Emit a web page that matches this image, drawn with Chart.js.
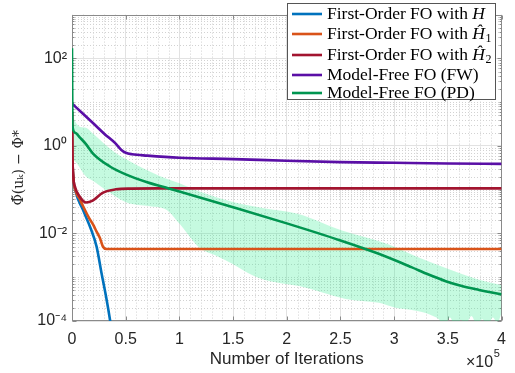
<!DOCTYPE html>
<html><head><meta charset="utf-8">
<script src="https://cdn.jsdelivr.net/npm/chart.js@4.4.1/dist/chart.umd.min.js"></script>
<style>html,body{margin:0;padding:0;background:#fff;}#wrap{width:515px;height:373px;}</style>
</head><body><div id="wrap"><canvas id="c" width="515" height="373"></canvas></div>
<script>
// ---- tick labels ----
const xTicks = [0, 50000, 100000, 150000, 200000, 250000, 300000, 350000, 400000];
const xTickLabels = ['0', '0.5', '1', '1.5', '2', '2.5', '3', '3.5', '4'];
const yTicks = [1e-4, 1e-2, 1, 1e2];
const yTickLabels = ['10\u207B\u2074', '10\u207B\u00B2', '10\u2070', '10\u00B2'];

// ---- series labels ----
const seriesText = ['First-Order FO with ', 'First-Order FO with ', 'First-Order FO with ', 'Model-Free FO (FW)', 'Model-Free FO (PD)'];
const seriesMath = ['H', '\u0124', '\u0124', '', ''];
const seriesSub = ['', '1', '2', '', ''];
const seriesColors = ['#0072BD', '#D95319', '#A2142F', '#5A0FA6', '#009550'];

// ---- First-Order FO with H ----
const hX = [0, 400, 1200, 3700, 9900, 17600, 22900, 27600, 32200, 35300, 38000];
const hY = [6.0, 0.63, 0.2, 0.085, 0.036, 0.0126, 0.005, 0.0012, 0.00031, 0.00011, 0.00004];

// ---- First-Order FO with H1 ----
const h1X = [0, 400, 1200, 3700, 7000, 9900, 16100, 19800, 22900, 26000, 29000, 32200, 36000, 400000];
const h1Y = [6.0, 0.63, 0.2, 0.089, 0.063, 0.044, 0.022, 0.0158, 0.011, 0.0079, 0.0049, 0.0044, 0.0044, 0.0044];

// ---- First-Order FO with H2 ----
const h2X = [0, 400, 1200, 3000, 6800, 13000, 19200, 28500, 40800, 55000, 80000, 400000];
const h2Y = [6.0, 0.63, 0.2, 0.112, 0.072, 0.051, 0.056, 0.085, 0.102, 0.106, 0.107, 0.107];

// ---- Model-Free FO (FW) ----
const fwX = [0, 10000, 20000, 30000, 40000, 46000, 50000, 56000, 70000, 100000, 150000, 200000, 250000, 300000, 350000, 400000];
const fwY = [9.3, 5.5, 3.24, 1.9, 1.17, 0.81, 0.70, 0.645, 0.60, 0.537, 0.50, 0.457, 0.427, 0.412, 0.398, 0.389];

// ---- Model-Free FO (PD) mean ----
const pdX = [0, 400, 3000, 7400, 13000, 19800, 35300, 50000, 70000, 90000, 100000, 150000, 200000, 250000, 285000, 316000, 332000, 348000, 363000, 379000, 391000, 400000];
const pdY = [170, 2.9, 2.0, 1.55, 1.10, 0.66, 0.339, 0.224, 0.148, 0.107, 0.0912, 0.0398, 0.017, 0.00692, 0.00347, 0.0017, 0.00115, 0.000813, 0.00063, 0.000513, 0.000447, 0.000407];

// ---- Model-Free FO (PD) spread: upper / lower ----
const pdUpX = [0, 400, 12000, 20000, 30000, 40000, 50000, 72000, 88000, 100000, 120000, 150000, 180000, 210000, 250000, 295000, 320000, 348000, 378000, 400000];
const pdUpY = [500, 5.1, 2.63, 1.86, 1.12, 0.708, 0.501, 0.263, 0.178, 0.141, 0.0891, 0.0525, 0.0372, 0.0282, 0.012, 0.00562, 0.00302, 0.00162, 0.00089, 0.00066];
const pdLoX = [0, 400, 13000, 19800, 35300, 50800, 72400, 87900, 100200, 118800, 134300, 149700, 165200, 180700, 193000, 211600, 254900, 285800, 301300, 315000, 325800, 333000, 341500, 347000, 352000, 357000, 362000, 367000, 372000, 377000, 382000, 387000, 392000, 396000, 400000];
const pdLoY = [0.47, 0.47, 0.2, 0.158, 0.085, 0.051, 0.042, 0.035, 0.0166, 0.0047, 0.0031, 0.002, 0.0012, 0.00085, 0.00074, 0.00063, 0.00032, 0.00026, 0.0002, 0.00018, 0.00016, 0.00014, 0.00011, 0.00008, 0.00012, 0.00007, 0.000105, 0.00009, 0.00013, 0.00008, 0.00011, 0.00008, 0.00012, 0.00009, 0.00015];

const pts = (xs, ys) => xs.map((v, i) => ({x: v, y: ys[i]}));
const lw = 2.6;

const frame = {
  id: 'frame',
  beforeDatasetsDraw(chart) {
    const {ctx, chartArea: a, scales: {x, y}} = chart;
    ctx.save();
    ctx.strokeStyle = '#d2d2d2';
    ctx.lineWidth = 1;
    ctx.setLineDash([1, 2]);
    ctx.beginPath();
    for (let v = 10000; v < 400000; v += 10000) {
      if (v % 50000 === 0) continue;
      const px = Math.round(x.getPixelForValue(v)) + 0.5;
      ctx.moveTo(px, a.top); ctx.lineTo(px, a.bottom);
    }
    for (let d = -4; d < 3; d++) {
      for (let k = 1; k < 10; k++) {
        if (k === 1 && d % 2 === 0) continue;
        const py = Math.round(y.getPixelForValue(k * Math.pow(10, d))) + 0.5;
        ctx.moveTo(a.left, py); ctx.lineTo(a.right, py);
      }
    }
    ctx.stroke();

    // axes box and inward ticks
    ctx.setLineDash([]);
    ctx.strokeStyle = '#8a8a8a';
    const L = Math.round(a.left) + 0.5, R = Math.round(a.right) - 0.5;
    const T = Math.round(a.top) + 0.5, B = Math.round(a.bottom) - 0.5;
    ctx.strokeRect(L, T, R - L, B - T);
    ctx.beginPath();
    xTicks.forEach(v => {
      const px = Math.round(x.getPixelForValue(v)) + 0.5;
      ctx.moveTo(px, B); ctx.lineTo(px, B - 4);
      ctx.moveTo(px, T); ctx.lineTo(px, T + 4);
    });
    for (let d = -4; d < 3; d++) {
      for (let k = 1; k < 10; k++) {
        const py = Math.round(y.getPixelForValue(k * Math.pow(10, d))) + 0.5;
        const len = (k === 1 && d % 2 === 0) ? 4 : 2;
        ctx.moveTo(L, py); ctx.lineTo(L + len, py);
        ctx.moveTo(R, py); ctx.lineTo(R - len, py);
      }
    }
    ctx.stroke();
    ctx.restore();
  },
  afterDatasetsDraw(chart) {
    const {ctx} = chart;
    ctx.save();
    // x10^5
    ctx.fillStyle = '#262626';
    ctx.font = '16px "Liberation Sans", Arial, sans-serif';
    ctx.textBaseline = 'alphabetic';
    ctx.textAlign = 'left';
    const mx = 466;
    ctx.fillText('\u00D710', mx, 367);
    const w10 = ctx.measureText('\u00D710').width;
    ctx.font = '11px "Liberation Sans", Arial, sans-serif';
    ctx.fillText('5', mx + w10 + 0.5, 357);

    // legend
    const bx = 287.5, by = 3.5, bw = 208, bh = 96;
    ctx.fillStyle = '#ffffff';
    ctx.fillRect(bx, by, bw, bh);
    ctx.strokeStyle = '#555555';
    ctx.lineWidth = 1;
    ctx.strokeRect(bx, by, bw, bh);
    const rows = [14, 34, 55, 75, 93];
    seriesText.forEach((t, i) => {
      const ly = rows[i];
      ctx.strokeStyle = seriesColors[i];
      ctx.lineWidth = lw;
      ctx.beginPath(); ctx.moveTo(292, ly); ctx.lineTo(322, ly); ctx.stroke();
      ctx.fillStyle = '#000';
      ctx.font = '17.5px "Liberation Serif", "Times New Roman", serif';
      const base = ly + 5;
      ctx.fillText(t, 327, base);
      let cx = 327 + ctx.measureText(t).width;
      if (seriesMath[i]) {
        ctx.font = 'italic 17.5px "Liberation Serif", "Times New Roman", serif';
        ctx.fillText(seriesMath[i], cx, base);
        cx += ctx.measureText(seriesMath[i]).width;
      }
      if (seriesSub[i]) {
        ctx.font = '12px "Liberation Serif", "Times New Roman", serif';
        ctx.fillText(seriesSub[i], cx + 0.5, base + 3);
      }
    });
    ctx.restore();
  }
};

const lineDs = (label, xs, ys, color, order) => ({
  label, data: pts(xs, ys), borderColor: color, backgroundColor: color,
  borderWidth: lw, pointRadius: 0, fill: false, order, cubicInterpolationMode: 'monotone'
});

new Chart(document.getElementById('c'), {
  type: 'line',
  data: {
    datasets: [
      {label: 'PD spread upper', data: pts(pdUpX, pdUpY), borderWidth: 0, pointRadius: 0,
       borderColor: 'rgba(0,0,0,0)', backgroundColor: 'rgba(40,235,140,0.27)', fill: '+1', order: 10,
       cubicInterpolationMode: 'monotone'},
      {label: 'PD spread lower', data: pts(pdLoX, pdLoY), borderWidth: 0, pointRadius: 0,
       borderColor: 'rgba(0,0,0,0)', backgroundColor: 'rgba(0,0,0,0)', fill: false, order: 9,
       cubicInterpolationMode: 'monotone'},
      lineDs('First-Order FO with H', hX, hY, seriesColors[0], 5),
      lineDs('First-Order FO with \u0124\u2081', h1X, h1Y, seriesColors[1], 4),
      lineDs('First-Order FO with \u0124\u2082', h2X, h2Y, seriesColors[2], 3),
      lineDs('Model-Free FO (FW)', fwX, fwY, seriesColors[3], 2),
      lineDs('Model-Free FO (PD)', pdX, pdY, seriesColors[4], 1)
    ]
  },
  options: {
    responsive: false, animation: false, devicePixelRatio: 1,
    layout: {padding: {top: 6, right: 12, left: 0, bottom: 0}},
    plugins: {legend: {display: false}, tooltip: {enabled: false}},
    scales: {
      x: {
        type: 'linear', min: 0, max: 400000,
        afterBuildTicks: s => { s.ticks = xTicks.map(v => ({value: v})); },
        afterFit: s => { s.height = 52; },
        ticks: {autoSkip: false, maxRotation: 0, padding: 9, color: '#262626',
                font: {family: '"Liberation Sans", Arial, sans-serif', size: 16},
                callback: (v, i) => xTickLabels[i]},
        grid: {color: '#e2e2e2', drawTicks: false},
        border: {display: false},
        title: {display: true, text: 'Number of Iterations', color: '#262626',
                font: {family: '"Liberation Sans", Arial, sans-serif', size: 17},
                padding: {top: 0, bottom: 3}}
      },
      y: {
        type: 'logarithmic', min: 1e-4, max: 1e3,
        afterBuildTicks: s => { s.ticks = yTicks.map(v => ({value: v})); },
        afterFit: s => { s.width = 72; },
        ticks: {autoSkip: false, padding: 5, color: '#262626',
                font: {family: '"Liberation Sans", Arial, sans-serif', size: 16},
                callback: (v, i) => yTickLabels[i]},
        grid: {color: '#e2e2e2', drawTicks: false},
        border: {display: false},
        title: {display: true, text: '\u03A6\u0303(u\u2096) \u2212 \u03A6*', color: '#262626',
                font: {family: '"DejaVu Serif", serif', size: 14},
                padding: {top: 11, bottom: 0}}
      }
    }
  },
  plugins: [frame]
});
</script></body></html>
